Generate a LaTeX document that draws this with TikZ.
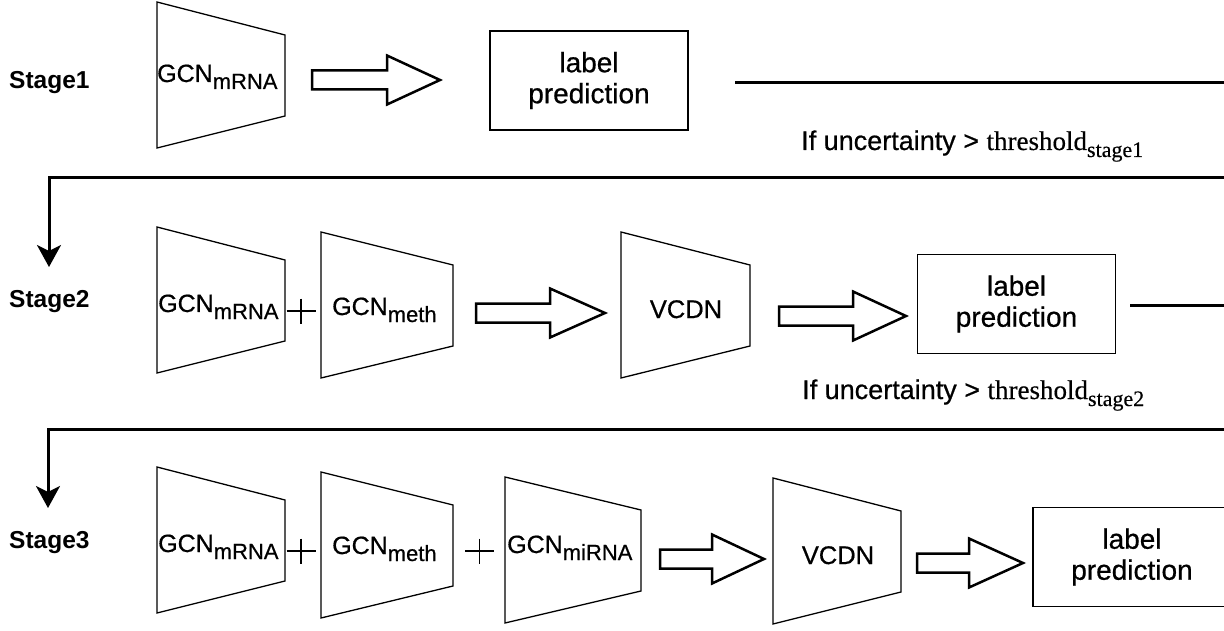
\documentclass[tikz,border=0pt]{standalone}
\usepackage{fontspec}
\setmainfont{Liberation Sans}
\newfontfamily\medsans{Liberation Sans}[FakeBold=0.6]
\newfontfamily\serifTNR{Liberation Serif}[FakeBold=0.4]
\usetikzlibrary{arrows.meta}
\newcommand\fsz[1]{\fontsize{#1}{#1}\selectfont}
\newcommand\subtxt[1]{\raisebox{-7pt}{\fontsize{22}{22}\selectfont #1}}
\newcommand\trapezoid[3]{%
  \draw[trapline] (#1,#2) -- (#1+#3,#2+33) -- (#1+#3,#2+114) -- (#1,#2+146) -- cycle;}
\newcommand\blockarr[4]{%
  \draw[blockarrow] (#1,#4-9.5) -- (#2,#4-9.5) -- (#2,#4-24.5) -- (#3,#4)
    -- (#2,#4+24.5) -- (#2,#4+9.5) -- (#1,#4+9.5) -- cycle;}
\begin{document}
\begin{tikzpicture}[x=1pt,y=-1pt,
  trapline/.style={draw=black, line width=1.3pt, line join=miter},
  blockarrow/.style={draw=black, line width=2.5pt, line join=miter, fill=white},
  gcn/.style={anchor=base west, inner sep=0pt, font=\medsans\fsz{25}},
  vcdn/.style={anchor=base, inner sep=0pt, font=\medsans\fsz{25.5}},
  stagelbl/.style={anchor=base west, inner sep=0pt, font=\fontsize{24.5}{24.5}\selectfont\bfseries},
  predbox/.style={draw=black, line width=1.5pt, minimum width=198pt, minimum height=99pt,
    align=center, inner sep=0pt, font=\medsans\fontsize{28}{31}\selectfont},
  condlbl/.style={anchor=base west, inner sep=0pt, font=\medsans\fsz{27}},
  conn/.style={draw=black, line width=3pt},
  downarrow/.style={conn, -{Stealth[length=22pt,width=24pt,inset=6pt]}},
  plusline/.style={draw=black, line width=1.6pt}]
\useasboundingbox (0,0) rectangle (1224,631);

% ---------- Stage 1 ----------
\node[stagelbl] (st1) at (9,89) {Stage1};
\trapezoid{157}{2}{128}
\node[gcn] (g1) at (157,82) {GCN\subtxt{mRNA}};
\blockarr{312}{387}{440}{80}
\node[predbox] (b1) at (589,80.5) {label\\prediction};
\coordinate (l1s) at (735,83);
\coordinate (l1e) at (1224,83);
\draw[conn] (l1s) -- (l1e);
\node[condlbl] (c1) at (801,150) {If uncertainty > {\serifTNR threshold\subtxt{stage1}}};

% ---------- Stage 2 ----------
\coordinate (r2) at (1224,178);
\coordinate (k2) at (49,178);
\coordinate (a2) at (49,267);
\draw[downarrow] (r2) -- (k2) -- (a2);
\node[stagelbl] (st2) at (9,308) {Stage2};
\trapezoid{157}{227}{128}
\trapezoid{321}{232}{132}
\trapezoid{621}{232}{129}
\node[gcn] (g2a) at (158,312) {GCN\subtxt{mRNA}};
\node[gcn] (g2b) at (332,315) {GCN\subtxt{meth}};
\coordinate (p21) at (301,311);
\draw[plusline] ([xshift=-14.5pt]p21) -- ([xshift=14.5pt]p21)
  ([yshift=12.5pt]p21) -- ([yshift=-12.5pt]p21);
\blockarr{476}{550}{605}{313}
\node[vcdn] (v2) at (686,318) {VCDN};
\blockarr{779}{853}{906}{316}
\node[predbox] (b2) at (1016.5,304) {label\\prediction};
\coordinate (l3s) at (1130,305);
\coordinate (l3e) at (1224,305);
\draw[conn] (l3s) -- (l3e);
\node[condlbl] (c2) at (802,399) {If uncertainty > {\serifTNR threshold\subtxt{stage2}}};

% ---------- Stage 3 ----------
\coordinate (r4) at (1224,429);
\coordinate (k4) at (48,429);
\coordinate (a4) at (48,508);
\draw[downarrow] (r4) -- (k4) -- (a4);
\node[stagelbl] (st3) at (9,548) {Stage3};
\trapezoid{157}{467}{128}
\trapezoid{321}{472}{132}
\trapezoid{505}{477}{136}
\trapezoid{773}{478}{128}
\node[gcn] (g3a) at (158,552) {GCN\subtxt{mRNA}};
\node[gcn] (g3b) at (332,554) {GCN\subtxt{meth}};
\node[gcn] (g3c) at (507,553) {GCN\subtxt{miRNA}};
\coordinate (p31) at (301,551);
\draw[plusline] ([xshift=-14.5pt]p31) -- ([xshift=14.5pt]p31)
  ([yshift=12.5pt]p31) -- ([yshift=-12.5pt]p31);
\coordinate (p32) at (479.5,551);
\draw[plusline] ([xshift=-14.5pt]p32) -- ([xshift=14.5pt]p32)
  ([yshift=12.5pt]p32) -- ([yshift=-12.5pt]p32);
\blockarr{660}{712}{764}{559}
\node[vcdn] (v3) at (838,564) {VCDN};
\blockarr{917}{969}{1023}{563}
\node[predbox] (b3) at (1132,557) {label\\prediction};
\end{tikzpicture}
\end{document}
